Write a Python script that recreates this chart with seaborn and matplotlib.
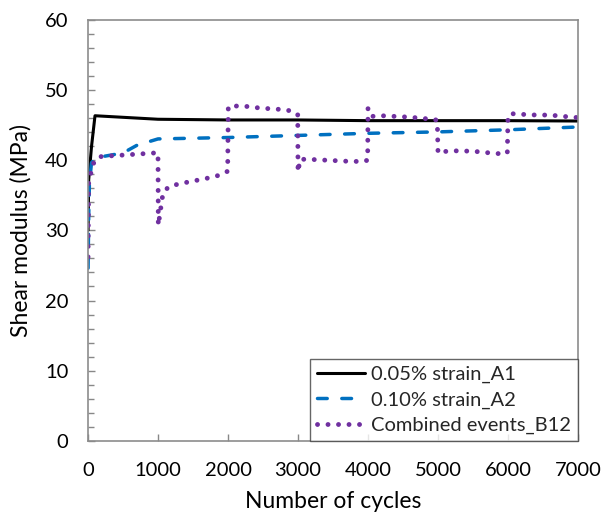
import matplotlib
matplotlib.use("Agg")
import matplotlib.pyplot as plt
import seaborn as sns
import pandas as pd
from matplotlib.ticker import MultipleLocator

sns.set_theme(style="white")
plt.rcParams['font.family'] = ['Lato', 'DejaVu Sans']

# ---- data ----
a1_cycles = [1, 10, 50, 100, 1000, 2000, 3000, 4000, 5000, 6000, 7000]
a1_modulus = [30.0, 37.2, 41.9, 46.3, 45.8, 45.7, 45.7, 45.6, 45.6, 45.6, 45.55]

a2_cycles = [1, 10, 20, 50, 100, 500, 700, 1000, 2000, 3000, 4000, 5000, 6000, 7000]
a2_modulus = [24.6, 32.0, 36.7, 39.6, 40.3, 41.0, 42.1, 43.0, 43.2, 43.5, 43.8, 44.0, 44.3, 44.7]

b12_cycles = [1, 10, 50, 90, 190, 500, 950, 1000, 1004, 1070, 1150, 1300, 1450, 1600,
              1750, 1900, 1995, 2004, 2150, 2300, 2450, 2600, 2750, 2900, 2996, 3000,
              3030, 3150, 3350, 3550, 3750, 3950, 3995, 4000, 4040, 4200, 4400, 4600,
              4800, 4950, 4990, 5000, 5150, 5350, 5550, 5750, 5940, 5990, 6000, 6040,
              6200, 6400, 6600, 6800, 6950, 7000]
b12_modulus = [26.2, 37.2, 38.4, 39.9, 40.5, 40.7, 41.0, 41.0, 30.7, 35.2, 36.2, 36.6, 36.9, 37.2,
               37.5, 37.9, 38.4, 47.6, 47.7, 47.6, 47.4, 47.3, 47.2, 47.0, 46.5, 38.3,
               40.1, 40.1, 40.0, 39.9, 39.8, 39.8, 40.0, 47.3, 46.2, 46.3, 46.2, 46.1,
               45.9, 45.8, 45.6, 41.0, 41.3, 41.3, 41.2, 41.0, 40.85, 41.0, 46.3, 46.6,
               46.5, 46.4, 46.4, 46.2, 46.1, 46.0]

labels = ["0.05% strain_A1", "0.10% strain_A2", "Combined events_B12"]

df_a1 = pd.DataFrame({"cycles": a1_cycles, "modulus": a1_modulus})
df_a2 = pd.DataFrame({"cycles": a2_cycles, "modulus": a2_modulus})
df_b12 = pd.DataFrame({"cycles": b12_cycles, "modulus": b12_modulus})

fig = plt.figure(figsize=(6.01, 5.16), dpi=100)
ax = fig.add_axes([88/601, 1-441/516, (578-88)/601, (441-19.5)/516])

sns.lineplot(data=df_a1, x="cycles", y="modulus", ax=ax, color="black", lw=2.2,
             sort=False, estimator=None, label=labels[0])
sns.lineplot(data=df_a2, x="cycles", y="modulus", ax=ax, color="#0070C0", lw=2.5,
             sort=False, estimator=None, label=labels[1],
             linestyle=(0, (2.8, 4.2)), dash_capstyle="round")
sns.lineplot(data=df_b12, x="cycles", y="modulus", ax=ax, color="#7030A0", lw=3.5,
             sort=False, estimator=None, label=labels[2],
             linestyle=(0, (0.01, 2.15)), dash_capstyle="round")

ax.set_xlim(0, 7000)
ax.set_ylim(0, 60)
ax.xaxis.set_major_locator(MultipleLocator(1000))
ax.yaxis.set_major_locator(MultipleLocator(10))
ax.yaxis.set_minor_locator(MultipleLocator(2))
ax.tick_params(axis="both", which="major", direction="in", length=5, width=1,
               color="#888888", labelsize=14.5, labelcolor="black",
               bottom=True, left=True)
ax.tick_params(axis="x", which="major", pad=15)
ax.tick_params(axis="y", which="major", pad=14)
ax.tick_params(axis="y", which="minor", direction="in", length=4, width=1,
               color="#888888", left=True)
for s in ax.spines.values():
    s.set_color("#8c8c8c")
    s.set_linewidth(1.2)

ax.set_xlabel("Number of cycles", fontsize=16.5, color="black", labelpad=9)
ax.set_ylabel("Shear modulus (MPa)", fontsize=16.5, color="black", labelpad=10)

leg = ax.legend(loc="lower right", borderaxespad=0, fontsize=14.5, frameon=True,
                fancybox=False, edgecolor="#404040", handlelength=2.4,
                labelspacing=0.4, borderpad=0.35, handletextpad=0.3)
leg.get_frame().set_linewidth(1.0)

fig.savefig("out.png", dpi=100)
